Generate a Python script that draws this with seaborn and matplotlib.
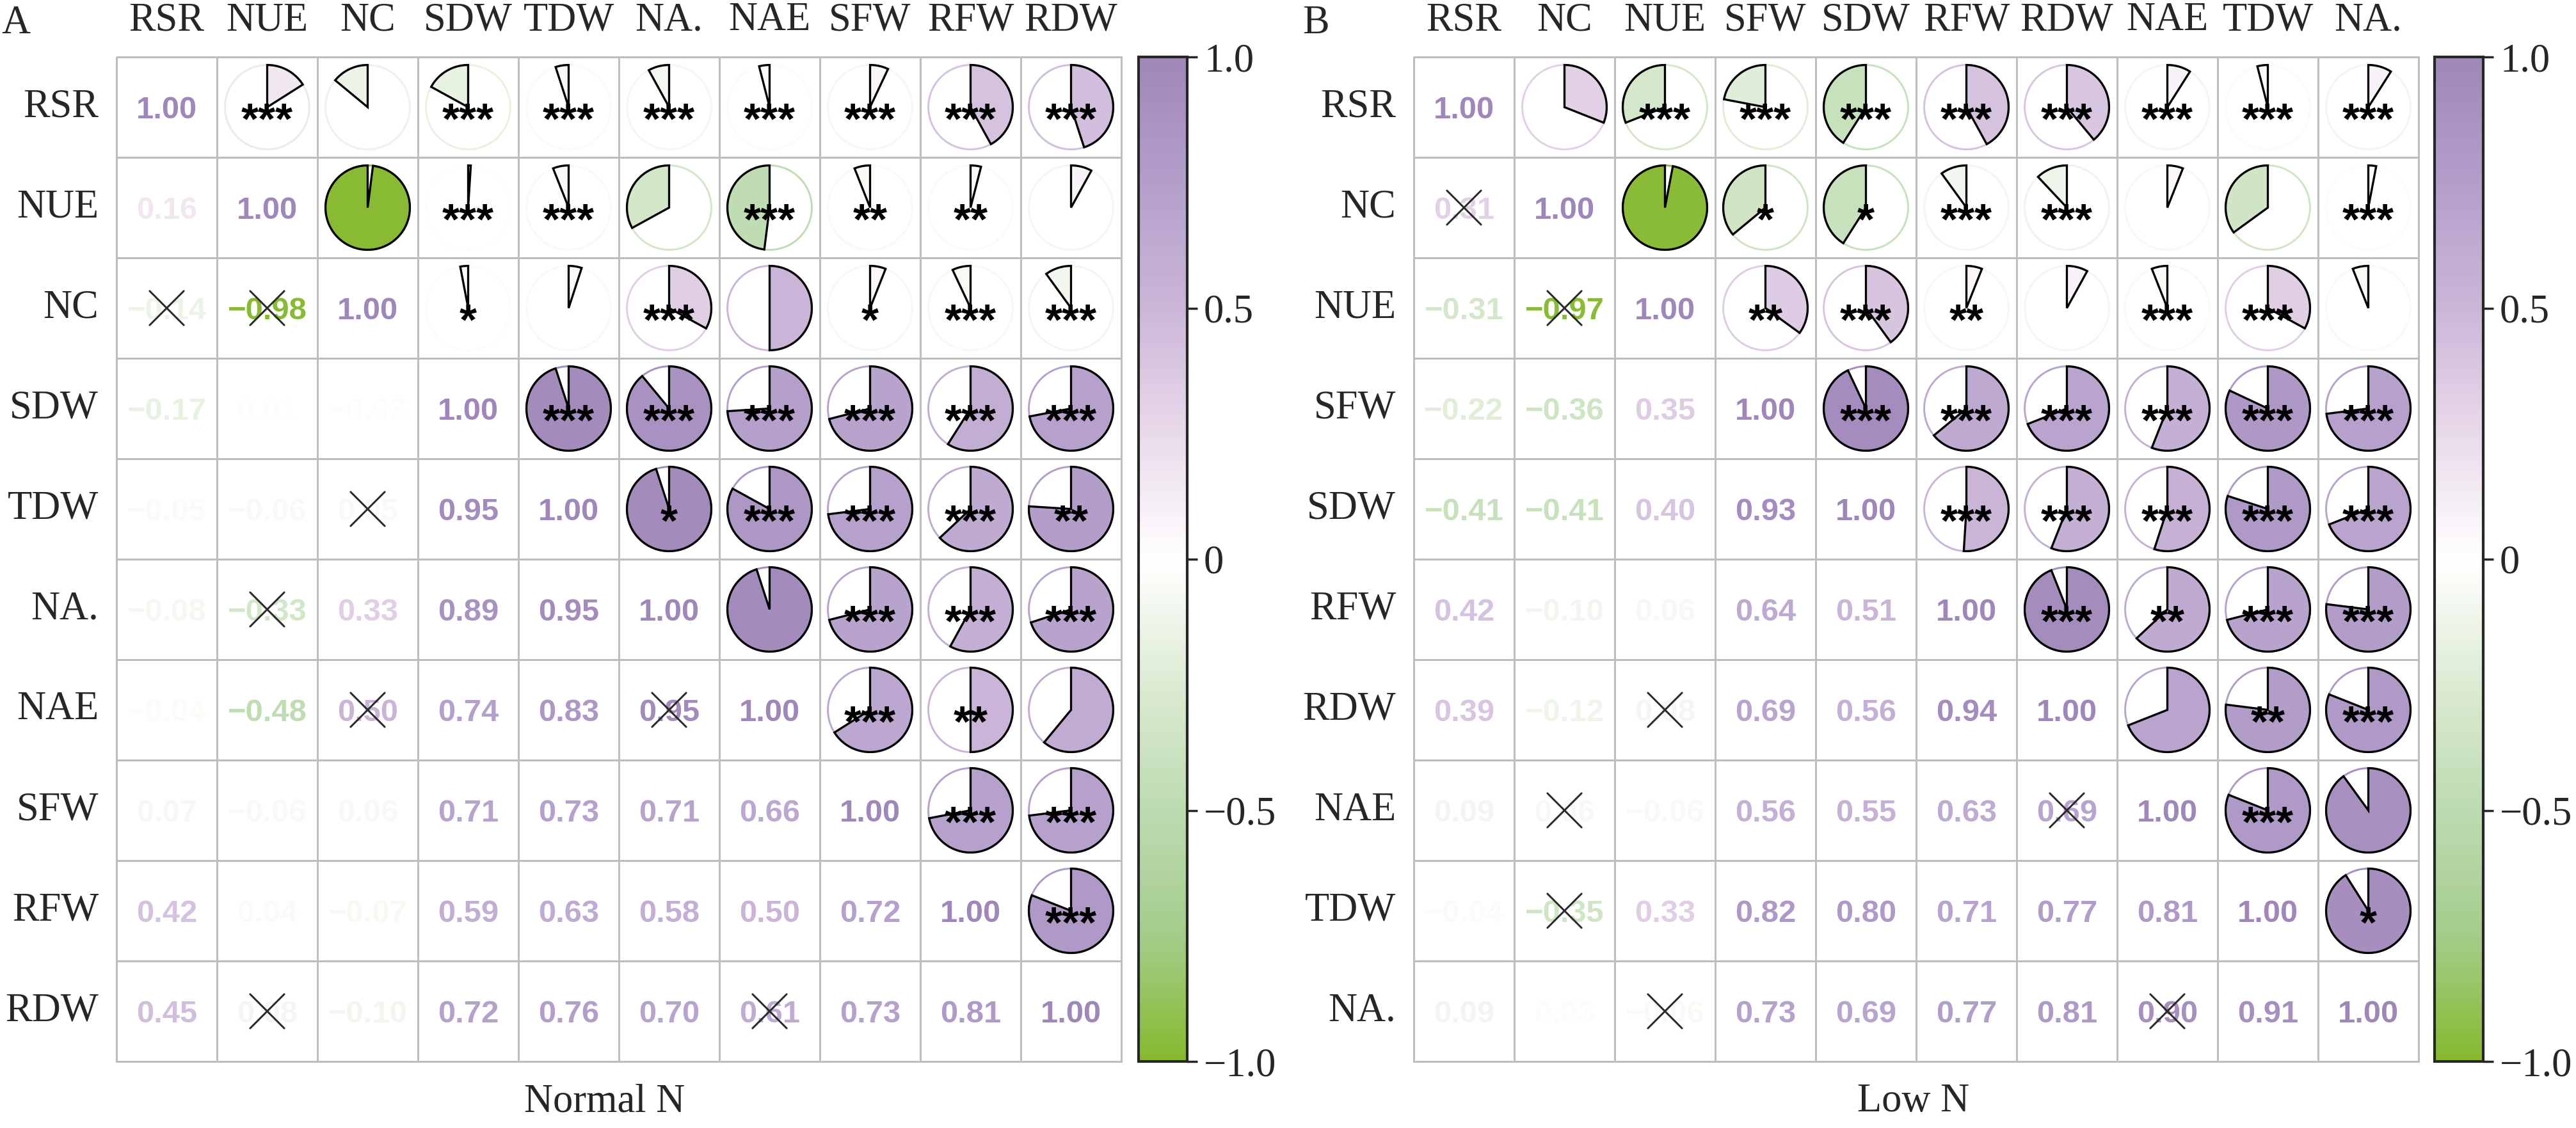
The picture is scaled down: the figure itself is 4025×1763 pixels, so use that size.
import numpy as np
import seaborn as sns
import matplotlib.pyplot as plt
from matplotlib.colors import LinearSegmentedColormap, ListedColormap, Normalize
from matplotlib.cm import ScalarMappable
from matplotlib.patches import Polygon, Circle

# ---- data ----
labels_a = ["RSR", "NUE", "NC", "SDW", "TDW", "NA.", "NAE", "SFW", "RFW", "RDW"]
lower_a = [
    [],
    [0.16],
    [-0.14, -0.98],
    [-0.17, 0.01, -0.03],
    [-0.05, -0.06, 0.05, 0.95],
    [-0.08, -0.33, 0.33, 0.89, 0.95],
    [-0.04, -0.48, 0.50, 0.74, 0.83, 0.95],
    [0.07, -0.06, 0.06, 0.71, 0.73, 0.71, 0.66],
    [0.42, 0.04, -0.07, 0.59, 0.63, 0.58, 0.50, 0.72],
    [0.45, 0.08, -0.10, 0.72, 0.76, 0.70, 0.61, 0.73, 0.81],
]
stars_a = [
    ["***", "", "***", "***", "***", "***", "***", "***", "***"],
    ["", "***", "***", "", "***", "**", "**", ""],
    ["*", "", "***", "", "*", "***", "***"],
    ["***", "***", "***", "***", "***", "***"],
    ["*", "***", "***", "***", "**"],
    ["", "***", "***", "***"],
    ["***", "**", ""],
    ["***", "***"],
    ["***"],
]
cross_a = [("NC", "RSR"), ("NC", "NUE"), ("TDW", "NC"), ("NA.", "NUE"),
           ("NAE", "NC"), ("NAE", "NA."), ("RDW", "NUE"), ("RDW", "NAE")]

labels_b = ["RSR", "NC", "NUE", "SFW", "SDW", "RFW", "RDW", "NAE", "TDW", "NA."]
lower_b = [
    [],
    [0.31],
    [-0.31, -0.97],
    [-0.22, -0.36, 0.35],
    [-0.41, -0.41, 0.40, 0.93],
    [0.42, -0.10, 0.06, 0.64, 0.51],
    [0.39, -0.12, 0.08, 0.69, 0.56, 0.94],
    [0.09, 0.06, -0.06, 0.56, 0.55, 0.63, 0.69],
    [-0.04, -0.35, 0.33, 0.82, 0.80, 0.71, 0.77, 0.81],
    [0.09, 0.03, -0.06, 0.73, 0.69, 0.77, 0.81, 0.90, 0.91],
]
stars_b = [
    ["", "***", "***", "***", "***", "***", "***", "***", "***"],
    ["", "*", "*", "***", "***", "", "", "***"],
    ["**", "***", "**", "", "***", "***", ""],
    ["***", "***", "***", "***", "***", "***"],
    ["***", "***", "***", "***", "***"],
    ["***", "**", "***", "***"],
    ["", "**", "***"],
    ["***", ""],
    ["*"],
]
cross_b = [("NC", "RSR"), ("NUE", "NC"), ("RDW", "NUE"), ("NAE", "NC"),
           ("TDW", "NC"), ("NA.", "NUE"), ("NAE", "RDW"), ("NA.", "NAE")]

# ---- style ----
sns.set_style("white")
plt.rcParams["font.family"] = ["Liberation Serif", "DejaVu Serif"]
plt.rcParams["axes.unicode_minus"] = True

cmap = LinearSegmentedColormap.from_list(
    "gw_pu",
    [(0.0, "#86B92E"), (0.125, "#A4CD8C"), (0.25, "#BDDBB1"), (0.375, "#DCEBD3"),
     (0.5, "#FFFFFF"), (0.625, "#E9DAEA"), (0.75, "#CBB6D8"), (0.875, "#B49FCB"),
     (1.0, "#9F87B9")])
norm = Normalize(-1, 1)

W, H = 4025, 1763
fig = plt.figure(figsize=(W / 250, H / 250), dpi=250)

CELL = 157
LAB_FS = 18
GRID = "#BDBDBD"


def full_matrix(lower):
    n = len(lower)
    m = np.eye(n)
    for i, row in enumerate(lower):
        for j, v in enumerate(row):
            m[i, j] = v
            m[j, i] = v
    return m


def fmt(v):
    s = f"{abs(v):.2f}"
    return ("\u2212" + s) if v < 0 else s


def draw_panel(x0, cbx0, labels, lower, stars, crosses, letter, letter_x, title, title_x):
    n = len(labels)
    m = full_matrix(lower)
    y0 = 89
    ax = fig.add_axes([x0 / W, 1 - (y0 + n * CELL) / H, n * CELL / W, n * CELL / H])
    sns.heatmap(np.zeros((n, n)), cmap=ListedColormap(["white"]), cbar=False,
                linewidths=0.78, linecolor=GRID, square=True, ax=ax,
                xticklabels=labels, yticklabels=labels)
    ax.collections[0].set_clip_on(False)
    ax.xaxis.tick_top()
    ax.tick_params(axis="both", length=0, labelsize=LAB_FS)
    ax.tick_params(axis="x", pad=8)
    ax.tick_params(axis="y", pad=8)
    plt.setp(ax.get_xticklabels(), rotation=0)
    plt.setp(ax.get_yticklabels(), rotation=0)

    r = 0.42
    # lower triangle: numbers
    for i in range(n):
        for j in range(i + 1):
            v = m[i, j]
            ax.text(j + 0.5, i + 0.5 + 0.11, fmt(v), ha="center", va="baseline",
                    fontsize=14.1, fontweight="bold", color=cmap(norm(v)),
                    family=["Liberation Sans", "DejaVu Sans"])
    # upper triangle: pies
    for i in range(n):
        for k, j in enumerate(range(i + 1, n)):
            v = m[i, j]
            col = cmap(norm(v))
            cx, cy = j + 0.5, i + 0.5
            ax.add_patch(Circle((cx, cy), r, fill=False, edgecolor=col, lw=0.85, zorder=3))
            t = np.linspace(0, 2 * np.pi * v, 200)
            pts = np.column_stack([cx + r * np.sin(t), cy - r * np.cos(t)])
            pts = np.vstack([[cx, cy], pts])
            ax.add_patch(Polygon(pts, closed=True, facecolor=col, edgecolor="black",
                                 lw=0.95, zorder=4, joinstyle="miter"))
            s = stars[i][k]
            if s:
                ax.text(cx, cy + 0.26, s, ha="center", va="baseline", fontsize=20,
                        fontweight="bold", color="black", zorder=5,
                        family=["Liberation Sans", "DejaVu Sans"])
    # crosses for non-significant pairs
    d = 0.17
    for a, b in crosses:
        i, j = labels.index(a), labels.index(b)
        cx, cy = j + 0.5, i + 0.5
        ax.plot([cx - d, cx + d], [cy - d, cy + d], color="#2A2A2A", lw=0.85, zorder=6)
        ax.plot([cx - d, cx + d], [cy + d, cy - d], color="#2A2A2A", lw=0.85, zorder=6)

    # colorbar
    cax = fig.add_axes([cbx0 / W, 1 - (y0 + n * CELL) / H, 76 / W, n * CELL / H])
    cb = fig.colorbar(ScalarMappable(norm=norm, cmap=cmap), cax=cax)
    cb.set_ticks([-1, -0.5, 0, 0.5, 1])
    cb.set_ticklabels(["\u22121.0", "\u22120.5", "0", "0.5", "1.0"])
    cb.outline.set_linewidth(1.2)
    cax.tick_params(length=4.5, width=1.0, labelsize=LAB_FS, pad=3)

    fig.text(letter_x / W, 1 - 8 / H, letter, ha="left", va="top", fontsize=18)
    fig.text(title_x / W, 1 - 1722 / H, title, ha="center", va="center", fontsize=LAB_FS)


draw_panel(182, 1779, labels_a, lower_a, stars_a, cross_a, "A", 2, "Normal N", 945)
draw_panel(2209, 3804, labels_b, lower_b, stars_b, cross_b, "B", 2035, "Low N", 2990)

plt.savefig("out.png", dpi=250)
